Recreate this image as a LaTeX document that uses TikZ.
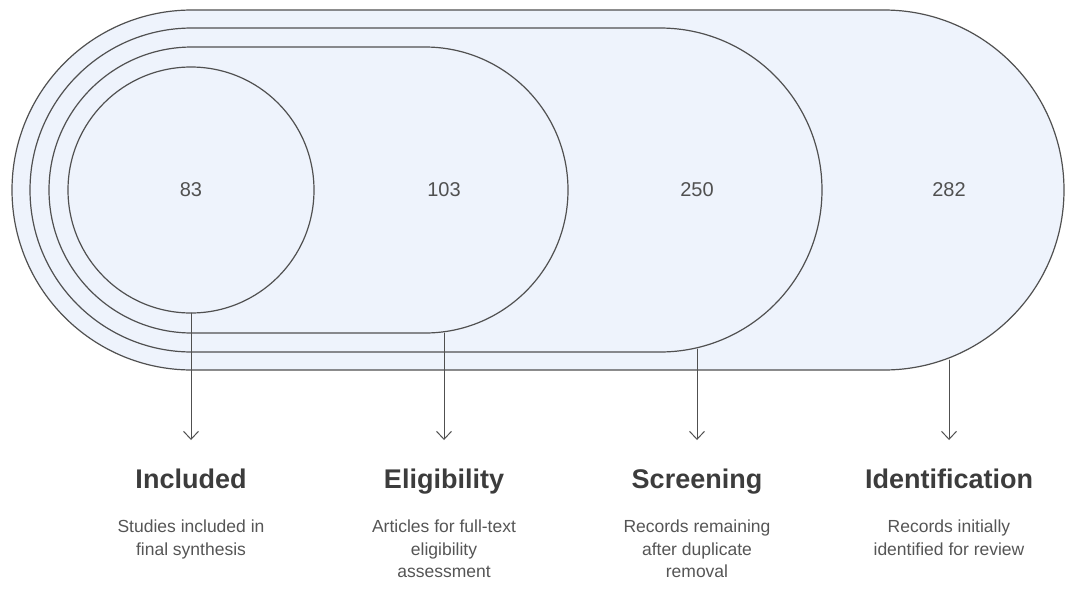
\documentclass[tikz,border=0pt]{standalone}
\usepackage{fontspec}
\setmainfont{Liberation Sans}
\usetikzlibrary{arrows.meta}
\definecolor{stagefill}{HTML}{EEF3FC}
\definecolor{stageline}{HTML}{505050}
\definecolor{titlegray}{HTML}{3C3C3C}
\definecolor{descgray}{HTML}{555555}
\begin{document}
\begin{tikzpicture}[line join=round,line cap=round,x=1pt,y=-1pt,>={Straight Barb[length=8pt,width=15pt]}]
	\tikzset{stage/.style={draw=stageline,fill=stagefill,line width=1.2pt},
		count/.style={font=\fontsize{20}{20}\selectfont,text=stageline},
		phase/.style={font=\fontsize{27}{30}\selectfont\bfseries,text=titlegray,anchor=base,inner sep=0pt},
		note/.style={font=\fontsize{17.5}{22.5}\selectfont,text=descgray,align=center,anchor=north,inner sep=0pt},
		lead/.style={->,draw=stageline,line width=1pt}}
	\useasboundingbox (0,0) rectangle (1066,598);
	% nested stages, outer to inner
	\draw[stage,rounded corners=180pt] (12,10) rectangle (1064,370);
	\draw[stage,rounded corners=162pt] (30,28) rectangle (822,352);
	\draw[stage,rounded corners=143pt] (49,47) rectangle (568,333);
	\draw[stage] (191,190) circle (123);
	\node[count] (n83) at (191,190) {83};
	\node[count] (n103) at (444,190) {103};
	\node[count] (n250) at (697,190) {250};
	\node[count] (n282) at (949,190) {282};
	% where the leads leave the shapes
	\coordinate (s83) at (191,313);
	\coordinate (s103) at (444,333);
	\coordinate (s250) at (697,349);
	\coordinate (s282) at (949,360);
	\node[phase] (incl) at (191,488) {Included};
	\node[phase] (elig) at (444,488) {Eligibility};
	\node[phase] (scrn) at (697,488) {Screening};
	\node[phase] (iden) at (949,488) {Identification};
	\node[note] (incltxt) at (191,520) {Studies included in\\final synthesis};
	\node[note] (eligtxt) at (444,520) {Articles for full-text\\eligibility\\assessment};
	\node[note] (scrntxt) at (697,520) {Records remaining\\after duplicate\\removal};
	\node[note] (identxt) at (949,520) {Records initially\\identified for review};
	\draw[lead] (s83) -- (s83 |- 0,440);
	\draw[lead] (s103) -- (s103 |- 0,440);
	\draw[lead] (s250) -- (s250 |- 0,440);
	\draw[lead] (s282) -- (s282 |- 0,440);
\end{tikzpicture}
\end{document}
